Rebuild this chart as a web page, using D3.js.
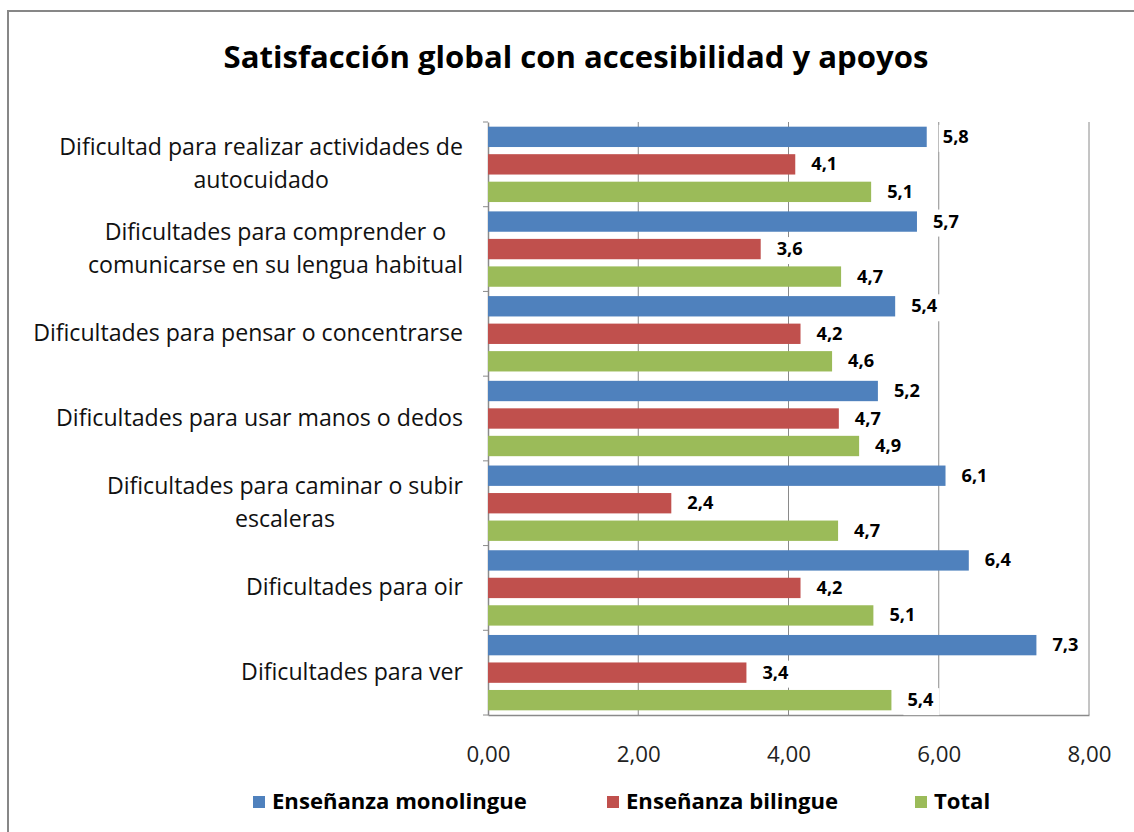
<!DOCTYPE html>
<html>
<head>
<meta charset="utf-8">
<script src="https://cdn.jsdelivr.net/npm/d3@7"></script>
<style>
  body { margin: 0; background: #fff; }
  svg text { font-family: "Open Sans", "Liberation Sans", Arial, sans-serif; }
</style>
</head>
<body>
<div id="chart"></div>
<script>
// ── Data ───────────────────────────────────────────────────────────────────
const categories = [
  ["Dificultad para realizar actividades de", "autocuidado"],
  ["Dificultades para comprender o", "comunicarse en su lengua habitual"],
  ["Dificultades para pensar o concentrarse"],
  ["Dificultades para usar manos o dedos"],
  ["Dificultades para caminar o subir", "escaleras"],
  ["Dificultades para oir"],
  ["Dificultades para ver"],
];
const seriesNames = ["Enseñanza monolingue", "Enseñanza bilingue", "Total"];
const monolingue = [5.84, 5.71, 5.42, 5.19, 6.09, 6.4, 7.3];
const bilingue = [4.09, 3.63, 4.16, 4.67, 2.44, 4.16, 3.44];
const total = [5.1, 4.7, 4.58, 4.94, 4.66, 5.13, 5.37];
const xTicks = [0, 2, 4, 6, 8];
const colors = ["#4f81bd", "#c0504d", "#9bbb59"];

const seriesValues = [monolingue, bilingue, total];
const rows = categories.map((c, i) => ({ key: i, lines: c }));

// ── SVG ────────────────────────────────────────────────────────────────────
const W = 1134, H = 832;
const svg = d3.select("#chart").append("svg").attr("width", W).attr("height", H);

svg.append("rect")
  .attr("x", 8).attr("y", 11)
  .attr("width", W).attr("height", H)
  .attr("fill", "#fff")
  .attr("stroke", "#878787")
  .attr("stroke-width", 2);

// font size that makes `str` about `target` px wide
function fitSize(str, target, weight) {
  const t = svg.append("text").style("font-size", "20px")
    .style("font-weight", weight || "normal").text(str);
  const w = t.node().getComputedTextLength();
  t.remove();
  return (20 * target) / w;
}
const catSize = fitSize("Dificultades para pensar o concentrarse", 430);
const titleSize = fitSize("Satisfacción global con accesibilidad y apoyos", 705, "bold");
const legendSize = fitSize("Enseñanza monolingue", 255, "bold");
const tickSize = fitSize("0,00", 44);
const valueSize = fitSize("5,8", 26, "bold");

const plot = { left: 488, right: 1089, top: 122, bottom: 715 };

// ── Scales ─────────────────────────────────────────────────────────────────
const x = d3.scaleLinear().domain([0, 8]).range([plot.left, plot.right]);
const y = d3.scaleBand().domain(d3.range(categories.length)).range([plot.top, plot.bottom]);
const inner = d3.scaleBand().domain(d3.range(3)).range([0, y.bandwidth()])
  .paddingInner(0.26).paddingOuter(0.17);

// ── Grid ───────────────────────────────────────────────────────────────────
svg.append("g")
  .selectAll("line")
  .data(xTicks.slice(1))
  .join("line")
  .attr("x1", (d) => x(d)).attr("x2", (d) => x(d))
  .attr("y1", plot.top).attr("y2", plot.bottom)
  .attr("stroke", "#8a8a8a").attr("stroke-width", 1);

// ── Axes ───────────────────────────────────────────────────────────────────
const xAxis = svg.append("g")
  .attr("transform", `translate(0,${plot.bottom})`)
  .call(d3.axisBottom(x).tickValues(xTicks).tickSize(0).tickPadding(31)
    .tickFormat((d) => d.toFixed(2).replace(".", ",")));
xAxis.select(".domain").attr("stroke", "#8a8a8a").attr("stroke-width", 1.5);
xAxis.selectAll("text").style("font-size", tickSize + "px").attr("fill", "#222");

const yAxis = svg.append("g")
  .attr("transform", `translate(${plot.left},0)`)
  .call(d3.axisLeft(y).tickSize(0).tickFormat(""));
yAxis.select(".domain").attr("stroke", "#8a8a8a").attr("stroke-width", 1.5);

svg.append("g")
  .selectAll("line")
  .data(d3.range(categories.length + 1))
  .join("line")
  .attr("x1", plot.left - 5).attr("x2", plot.left)
  .attr("y1", (d) => plot.top + d * y.step())
  .attr("y2", (d) => plot.top + d * y.step())
  .attr("stroke", "#8a8a8a");

// ── Category labels ────────────────────────────────────────────────────────
const catLabels = svg.append("g")
  .selectAll("text")
  .data(rows)
  .join("text")
  .style("font-size", catSize + "px")
  .attr("fill", "#111");

catLabels.each(function (d) {
  const t = d3.select(this);
  const cy = y(d.key) + y.bandwidth() / 2;
  const lh = 33;
  if (d.lines.length === 1) {
    t.attr("text-anchor", "end").attr("x", 463).attr("y", cy + 7).text(d.lines[0]);
  } else {
    t.attr("text-anchor", "middle");
    const spans = d.lines.map((s, k) =>
      t.append("tspan").attr("y", cy + (k - 0.5) * lh + 7).text(s));
    const maxW = d3.max(spans, (s) => s.node().getComputedTextLength());
    spans.forEach((s) => s.attr("x", 463 - maxW / 2));
  }
});

// ── Bars ───────────────────────────────────────────────────────────────────
const groups = svg.append("g")
  .selectAll("g")
  .data(seriesValues)
  .join("g")
  .attr("fill", (d, i) => colors[i]);

groups.each(function (vals, si) {
  d3.select(this).selectAll("rect")
    .data(vals)
    .join("rect")
    .attr("x", x(0))
    .attr("y", (d, i) => y(i) + inner(si))
    .attr("width", (d) => x(d) - x(0))
    .attr("height", inner.bandwidth());
});

// ── Value labels ───────────────────────────────────────────────────────────
groups.each(function (vals, si) {
  const lbl = d3.select(this).selectAll("g.lbl")
    .data(vals)
    .join("g")
    .attr("class", "lbl")
    .attr("transform", (d, i) => `translate(${x(d) + 16},${y(i) + inner(si) + inner.bandwidth() / 2})`);
  lbl.append("rect")
    .attr("x", -4).attr("y", -12).attr("width", 36).attr("height", 27)
    .attr("fill", "#fff");
  lbl.append("text")
    .attr("y", 6)
    .attr("fill", "#000")
    .style("font-size", valueSize + "px")
    .style("font-weight", "bold")
    .text((d) => d.toFixed(1).replace(".", ","));
});

// ── Title ──────────────────────────────────────────────────────────────────
svg.append("text")
  .attr("x", 576).attr("y", 68)
  .attr("text-anchor", "middle")
  .style("font-size", titleSize + "px")
  .style("font-weight", "bold")
  .text("Satisfacción global con accesibilidad y apoyos");

// ── Legend ─────────────────────────────────────────────────────────────────
const legendX = [253, 607, 915];
const legend = svg.append("g")
  .selectAll("g")
  .data(seriesNames)
  .join("g")
  .attr("transform", (d, i) => `translate(${legendX[i]},802)`);
legend.append("rect")
  .attr("x", 0).attr("y", -6).attr("width", 12).attr("height", 12)
  .attr("fill", (d, i) => colors[i]);
legend.append("text")
  .attr("x", 19).attr("y", 7)
  .style("font-size", legendSize + "px")
  .style("font-weight", "bold")
  .text((d) => d);
</script>
</body>
</html>
